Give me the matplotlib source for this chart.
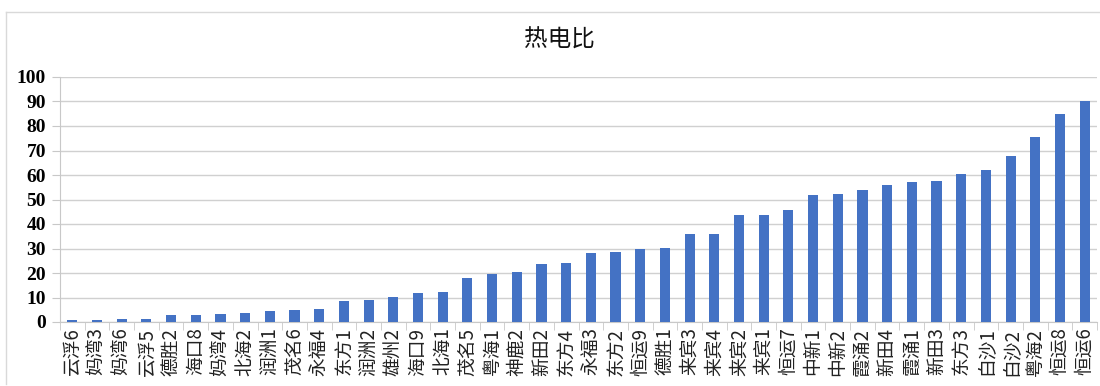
import matplotlib
matplotlib.use("Agg")
import matplotlib.pyplot as plt
from matplotlib.lines import Line2D

plt.rcParams['font.family'] = ['Noto Sans CJK SC', 'DejaVu Sans']

title = "热电比"
units = ["云浮6", "妈湾3", "妈湾6", "云浮5", "德胜2", "海口8", "妈湾4", "北海2",
         "润洲1", "茂名6", "永福4", "东方1", "润洲2", "雄州2", "海口9", "北海1",
         "茂名5", "粤海1", "神鹿2", "新田2", "东方4", "永福3", "东方2", "恒运9",
         "德胜1", "来宾3", "来宾4", "来宾2", "来宾1", "恒运7", "中新1", "中新2",
         "霞涌2", "新田4", "霞涌1", "新田3", "东方3", "白沙1", "白沙2", "粤海2",
         "恒运8", "恒运6"]
ratio = [0.8, 0.8, 1.2, 1.2, 2.7, 2.7, 3.4, 3.7,
         4.4, 5.0, 5.4, 8.6, 8.8, 10.1, 11.7, 12.1,
         17.8, 19.5, 20.5, 23.7, 24.2, 28.2, 28.7, 29.8,
         30.3, 35.8, 35.8, 43.5, 43.8, 45.7, 51.9, 52.2,
         53.9, 55.8, 57.0, 57.7, 60.5, 61.9, 67.6, 75.4,
         84.8, 90.2]
y_ticks = list(range(0, 101, 10))

W, H = 1100, 386
fig = plt.figure(figsize=(W / 100, H / 100), dpi=100)

# chart frame
frame_col = "#d9d9d9"
fig.add_artist(Line2D([6 / W, 6 / W], [1 - 384 / H, 1 - 12 / H], color=frame_col, lw=1))
fig.add_artist(Line2D([6 / W, 1.0], [1 - 12 / H, 1 - 12 / H], color=frame_col, lw=1))

left, right, top, bottom = 60, 1097, 77, 322
ax = fig.add_axes([left / W, 1 - bottom / H, (right - left) / W, (bottom - top) / H])

x = list(range(len(units)))
ax.bar(x, ratio, width=0.41, color="#4472c4", zorder=3)

ax.set_xlim(-0.5, len(units) - 0.5)
ax.set_ylim(0, 100)
ax.set_yticks(y_ticks)
ax.set_yticklabels([str(t) for t in y_ticks], family="Liberation Serif",
                   fontweight="bold", fontsize=14)
ax.yaxis.grid(True, color="#d0d0d0", lw=1, zorder=0)
ax.tick_params(axis="y", length=6, color="#c8c8c8", pad=4)

# category labels centred under bars, ticks at category boundaries
ax.set_xticks(x)
ax.set_xticklabels(units, rotation=90, fontsize=13.5, color="#222222")
ax.tick_params(axis="x", length=0, pad=4)
ax.set_xticks([i - 0.5 for i in range(len(units) + 1)], minor=True)
ax.tick_params(axis="x", which="minor", length=6, color="#c8c8c8")

for s in ["top", "right"]:
    ax.spines[s].set_visible(False)
ax.spines["left"].set_color("#c8c8c8")
ax.spines["bottom"].set_color("#c8c8c8")

fig.text(559 / W, 1 - 40 / H, title, ha="center", va="center", fontsize=17,
         color="#111111")

fig.savefig("out.png", dpi=100)
